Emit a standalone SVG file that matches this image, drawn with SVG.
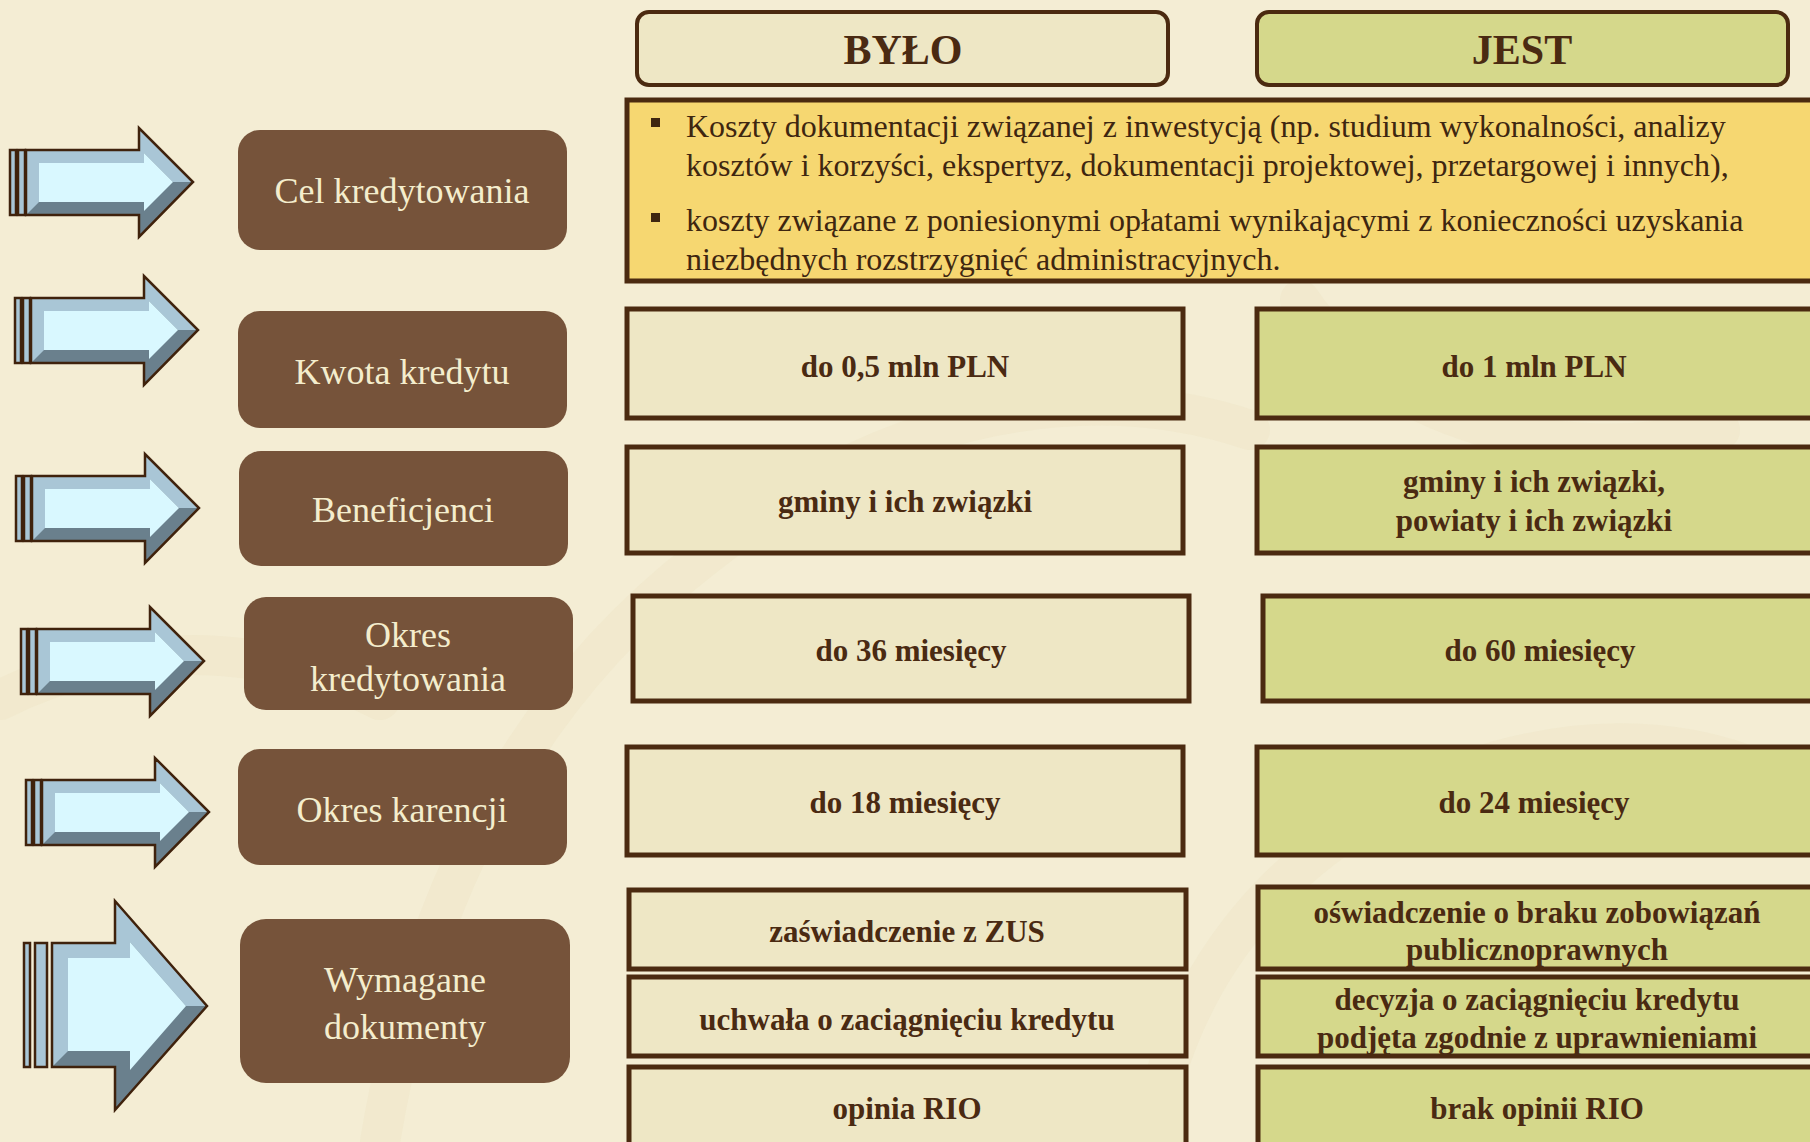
<svg xmlns="http://www.w3.org/2000/svg" width="1810" height="1142" viewBox="0 0 1810 1142">
<defs>
<style>
.bg{fill:#F4EDD4}
.swirl{fill:none;stroke:#EADFBB;stroke-width:40;opacity:0.25;stroke-linecap:round}
.lbl{fill:#76533A}
.lbltxt{font-family:"Liberation Serif","Times New Roman",serif;font-size:36px;fill:#F4EDCD;text-anchor:middle}
.hdr{stroke:#4B2A10;stroke-width:4}
.hdrtxt{font-family:"Liberation Serif","Times New Roman",serif;font-size:42px;font-weight:bold;fill:#4A2A12;text-anchor:middle}
.old{fill:#EEE7C5;stroke:#4B2A10;stroke-width:5}
.new{fill:#D5D88B;stroke:#4B2A10;stroke-width:5}
.cell{font-family:"Liberation Serif","Times New Roman",serif;font-size:31px;font-weight:bold;fill:#4A2A12;text-anchor:middle}
.ytxt{font-family:"Liberation Serif","Times New Roman",serif;font-size:32px;fill:#3E2610}
.aDark{fill:#6A808D}
.aLight{fill:#A9C6D6}
.aFace{fill:#D9F8FF}
.aOut{fill:none;stroke:#3F220C;stroke-width:2.5;stroke-linejoin:miter}
.bar{fill:#A9C6D6;stroke:#3F220C;stroke-width:2.5}
</style>
<g id="arrowStd">
<rect class="bar" x="0" y="22" width="6" height="65"/>
<rect class="bar" x="8" y="22" width="7" height="65"/>
<polygon class="aDark" points="16,22 129,22 129,0 183,54 129,109 129,87 16,87"/>
<polygon class="aLight" points="16,87 16,22 129,22 129,0 183,54 163,54 134,25 134,35 29,35 29,74"/>
<polygon class="aFace" points="29,35 134,35 134,25 163,54 134,83 134,74 29,74"/>
<polygon class="aOut" points="16,22 129,22 129,0 183,54 129,109 129,87 16,87"/>
</g>
</defs>

<rect class="bg" x="0" y="0" width="1810" height="1142"/>
<g id="background-swirls">
<path class="swirl" d="M380,1142 C420,900 520,700 700,560 C900,400 1100,380 1250,430"/>
<path class="swirl" d="M1150,1142 C1180,960 1300,820 1500,760 C1650,720 1760,760 1810,800"/>
<path class="swirl" d="M0,700 C120,640 260,640 380,700"/>
<path class="swirl" d="M1300,300 C1380,420 1560,470 1720,430"/>
</g>

<g id="header-bylo">
<rect class="hdr" x="637" y="12" width="531" height="73" rx="12" fill="#EEE7C5"/>
<text class="hdrtxt" x="903" y="64">BYŁO</text>
</g>
<g id="header-jest">
<rect class="hdr" x="1257" y="12" width="531" height="73" rx="12" fill="#D5D88B"/>
<text class="hdrtxt" x="1522" y="64">JEST</text>
</g>

<g id="arrows">
<use href="#arrowStd" transform="translate(10,128)"/>
<use href="#arrowStd" transform="translate(15,276)"/>
<use href="#arrowStd" transform="translate(16,454)"/>
<use href="#arrowStd" transform="translate(21,607)"/>
<use href="#arrowStd" transform="translate(26,758)"/>
<g transform="translate(24,901)">
<rect class="bar" x="0" y="42" width="6" height="124"/>
<rect class="bar" x="11" y="42" width="12" height="124"/>
<polygon class="aDark" points="28,42 91,42 91,0 183,105 91,209 91,166 28,166"/>
<polygon class="aLight" points="28,166 28,42 91,42 91,0 183,105 162,105 106,41 106,57 44,57 44,150"/>
<polygon class="aFace" points="44,57 106,57 106,41 162,105 106,169 106,150 44,150"/>
<polygon class="aOut" points="28,42 91,42 91,0 183,105 91,209 91,166 28,166"/>
</g>
</g>

<g id="label-cel">
<rect class="lbl" x="238" y="130" width="329" height="120" rx="22"/>
<text class="lbltxt" x="402" y="203">Cel kredytowania</text>
</g>
<g id="label-kwota">
<rect class="lbl" x="238" y="311" width="329" height="117" rx="22"/>
<text class="lbltxt" x="402" y="384">Kwota kredytu</text>
</g>
<g id="label-benef">
<rect class="lbl" x="239" y="451" width="329" height="115" rx="22"/>
<text class="lbltxt" x="403" y="522">Beneficjenci</text>
</g>
<g id="label-okres">
<rect class="lbl" x="244" y="597" width="329" height="113" rx="22"/>
<text class="lbltxt" x="408" y="647">Okres</text>
<text class="lbltxt" x="408" y="691">kredytowania</text>
</g>
<g id="label-karencja">
<rect class="lbl" x="238" y="749" width="329" height="116" rx="22"/>
<text class="lbltxt" x="402" y="822">Okres karencji</text>
</g>
<g id="label-dokumenty">
<rect class="lbl" x="240" y="919" width="330" height="164" rx="26"/>
<text class="lbltxt" x="405" y="992">Wymagane</text>
<text class="lbltxt" x="405" y="1039">dokumenty</text>
</g>

<g id="cel-box">
<rect x="627" y="100" width="1203" height="181" fill="#F6D771" stroke="#4B2A10" stroke-width="5"/>
<rect x="651" y="118" width="9" height="9" fill="#3E2610"/>
<rect x="651" y="213" width="9" height="9" fill="#3E2610"/>
<text class="ytxt" x="686" y="137">Koszty dokumentacji związanej z inwestycją (np. studium wykonalności, analizy</text>
<text class="ytxt" x="686" y="176">kosztów i korzyści, ekspertyz, dokumentacji projektowej, przetargowej i innych),</text>
<text class="ytxt" x="686" y="231">koszty związane z poniesionymi opłatami wynikającymi z konieczności uzyskania</text>
<text class="ytxt" x="686" y="270">niezbędnych rozstrzygnięć administracyjnych.</text>
</g>

<g id="kwota-old"><rect class="old" x="627" y="309" width="556" height="109"/><text class="cell" x="905" y="377">do 0,5 mln PLN</text></g>
<g id="kwota-new"><rect class="new" x="1257" y="309" width="573" height="109"/><text class="cell" x="1534" y="377">do 1 mln PLN</text></g>

<g id="benef-old"><rect class="old" x="627" y="447" width="556" height="106"/><text class="cell" x="905" y="512">gminy i ich związki</text></g>
<g id="benef-new"><rect class="new" x="1257" y="447" width="573" height="106"/><text class="cell" x="1534" y="492">gminy i ich związki,</text><text class="cell" x="1534" y="531">powiaty i ich związki</text></g>

<g id="okres-old"><rect class="old" x="633" y="596" width="556" height="105"/><text class="cell" x="911" y="661">do 36 miesięcy</text></g>
<g id="okres-new"><rect class="new" x="1263" y="596" width="567" height="105"/><text class="cell" x="1540" y="661">do 60 miesięcy</text></g>

<g id="karencja-old"><rect class="old" x="627" y="747" width="556" height="108"/><text class="cell" x="905" y="813">do 18 miesięcy</text></g>
<g id="karencja-new"><rect class="new" x="1257" y="747" width="573" height="108"/><text class="cell" x="1534" y="813">do 24 miesięcy</text></g>

<g id="zus-old"><rect class="old" x="629" y="890" width="557" height="79"/><text class="cell" x="907" y="942">zaświadczenie z ZUS</text></g>
<g id="zus-new"><rect class="new" x="1258" y="887" width="572" height="82"/><text class="cell" x="1537" y="923">oświadczenie o braku zobowiązań</text><text class="cell" x="1537" y="960">publicznoprawnych</text></g>

<g id="uchwala-old"><rect class="old" x="629" y="977" width="557" height="79"/><text class="cell" x="907" y="1030">uchwała o zaciągnięciu kredytu</text></g>
<g id="uchwala-new"><rect class="new" x="1258" y="977" width="572" height="79"/><text class="cell" x="1537" y="1010">decyzja o zaciągnięciu kredytu</text><text class="cell" x="1537" y="1048">podjęta zgodnie z uprawnieniami</text></g>

<g id="rio-old"><rect class="old" x="629" y="1067" width="557" height="90"/><text class="cell" x="907" y="1119">opinia RIO</text></g>
<g id="rio-new"><rect class="new" x="1258" y="1067" width="572" height="90"/><text class="cell" x="1537" y="1119">brak opinii RIO</text></g>
</svg>
